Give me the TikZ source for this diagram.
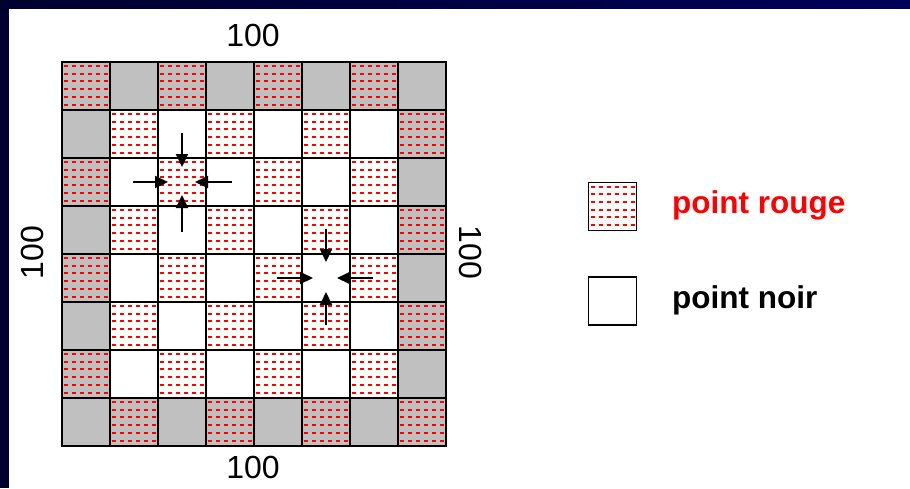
\documentclass[tikz,border=0pt]{standalone}
\usepackage{fontspec}
\setmainfont{Liberation Sans}
\usetikzlibrary{arrows.meta}
\definecolor{navyL}{HTML}{000030}
\definecolor{navyR}{HTML}{000058}
\definecolor{cgray}{HTML}{C0C0C0}
\begin{document}
\begin{tikzpicture}[x=1pt,y=-1pt,
  cell/.style={minimum size=48pt, inner sep=0pt, outer sep=0pt},
  nopat/.style={},
  reddots/.style={path picture={\foreach \k in {0,...,5} {\draw[red, line width=2pt, dash pattern=on 4pt off 4pt] ([xshift=2pt,yshift={-4pt-7.7pt*\k}]path picture bounding box.north west) -- ++(44,0);}}},
  gridline/.style={line width=1.8pt, line cap=rect},
  legbox/.style={draw=black, line width=1.8pt, minimum size=48pt, inner sep=0pt, outer sep=0pt},
  dim/.style={inner sep=0pt, font=\fontsize{32}{36}\selectfont},
  legtext/.style={inner sep=0pt, anchor=base west, font=\fontsize{31.5}{36}\selectfont\bfseries},
  arr/.style={-{Triangle[length=13pt,width=12pt]}, line width=2pt}
]
\useasboundingbox (0,0) rectangle (910,488);
\fill[navyL] (0,0) rectangle (910,488);
\shade[left color=navyL, right color=navyR] (0,0) rectangle (910,9);
\fill[white] (9,9) rectangle (910,488);

% grid cells
\foreach \r in {0,...,7} {
  \foreach \c in {0,...,7} {
    \pgfmathtruncatemacro\isborder{(\r==0 || \r==7 || \c==0 || \c==7) ? 1 : 0}
    \pgfmathtruncatemacro\iseven{mod(\r+\c,2)==0 ? 1 : 0}
    \ifnum\isborder=1 \def\bg{cgray}\else\def\bg{white}\fi
    \ifnum\iseven=1 \def\pat{reddots}\else\def\pat{nopat}\fi
    \node[cell, fill=\bg, \pat] (c\r\c) at ({86+48*\c},{86+48*\r}) {};
  }
}
% grid lines
\foreach \i in {0,...,7} {
  \draw[gridline] (c0\i.north west) -- (c7\i.south west);
  \draw[gridline] (c\i0.north west) -- (c\i7.north east);
}
\draw[gridline] (c07.north east) -- (c77.south east);
\draw[gridline] (c70.south west) -- (c77.south east);

% arrows on cell (2,2)
\draw[arr] ([yshift=49pt]c22.center) -- ([yshift=15pt]c22.center);
\draw[arr] ([yshift=-50pt]c22.center) -- ([yshift=-13pt]c22.center);
\draw[arr] ([xshift=-49pt]c22.center) -- ([xshift=-14pt]c22.center);
\draw[arr] ([xshift=50pt]c22.center) -- ([xshift=13pt]c22.center);
% arrows on cell (4,5)
\draw[arr] ([yshift=49pt]c45.center) -- ([yshift=16pt]c45.center);
\draw[arr] ([yshift=-47pt]c45.center) -- ([yshift=-14pt]c45.center);
\draw[arr] ([xshift=-49pt]c45.center) -- ([xshift=-13pt]c45.center);
\draw[arr] ([xshift=47pt]c45.center) -- ([xshift=11pt]c45.center);

% dimension labels
\node[dim] (dtop) at (253,35) {100};
\node[dim] (dbot) at (253,467.5) {100};
\node[dim, rotate=90] (dleft) at (32.5,252.5) {100};
\node[dim, rotate=-90] (dright) at (470.5,252.5) {100};

% legend
\node[legbox, fill=white, reddots] (legR) at (612.5,206.5) {};
\node[legbox, fill=white] (legN) at (612.5,301) {};
\node[legtext, text=red] (txtR) at (672,213) {point rouge};
\node[legtext, text=black] (txtN) at (672,308) {point noir};
\end{tikzpicture}
\end{document}
